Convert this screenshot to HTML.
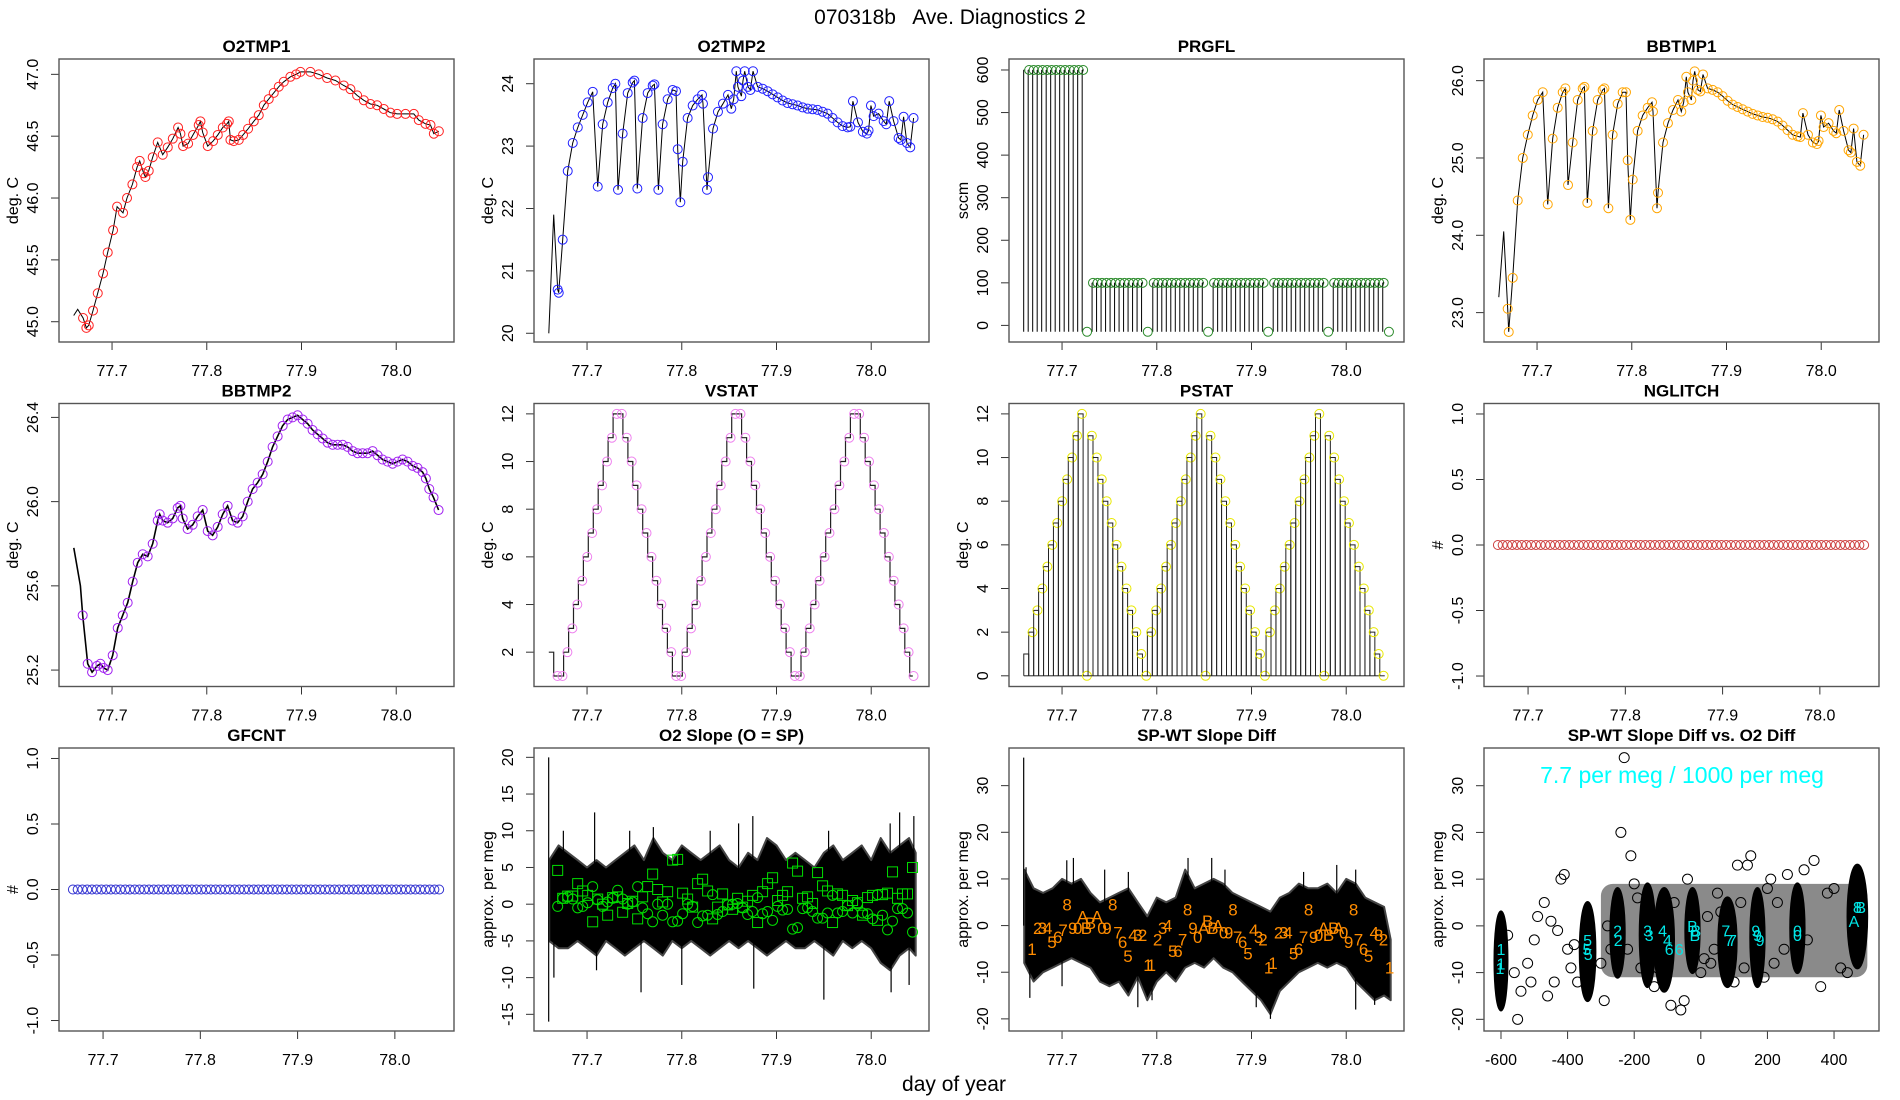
<!DOCTYPE html>
<html><head><meta charset="utf-8">
<style>
html,body{margin:0;padding:0;background:#fff;width:1900px;height:1100px;overflow:hidden}
svg{display:block;font-family:"Liberation Sans",Arial,sans-serif}
</style></head>
<body>
<svg id="fig" width="1900" height="1100" viewBox="0 0 1900 1100">
<rect x="0" y="0" width="1900" height="1100" fill="#fff"/>
<text x="950" y="24" text-anchor="middle" font-size="21" style="white-space:pre">070318b   Ave. Diagnostics 2</text>
<text x="954" y="1091" text-anchor="middle" font-size="21">day of year</text>
</svg>
<script>
// ---------- DATA ----------
// Panel 1 O2TMP1
const o2t1T=[77.6595,77.6637,77.6694,77.6729,77.6754,77.6799,77.6849,77.6905,77.6954,77.7011,77.7053,77.7116,77.7158,77.7215,77.7264,77.7292,77.7334,77.7352,77.7387,77.7429,77.7482,77.7535,77.7588,77.7641,77.7697,77.7722,77.775,77.7803,77.7855,77.7915,77.7933,77.7957,77.801,77.8067,77.8116,77.8169,77.8214,77.8232,77.825,77.8285,77.8338,77.8383,77.8436,77.8496,77.8549,77.8602,77.8654,77.8707,77.876,77.8813,77.8883,77.8944,77.8989,77.9094,77.9182,77.927,77.9358,77.9446,77.9517,77.9587,77.9658,77.9728,77.9798,77.9869,77.9939,78.001,78.0098,78.0186,78.0238,78.0309,78.0362,78.0397,78.045];
const o2t1V=[45.05,45.1,45.03,44.95,44.97,45.09,45.23,45.39,45.56,45.74,45.93,45.88,46.0,46.11,46.25,46.3,46.2,46.17,46.22,46.33,46.45,46.35,46.41,46.48,46.57,46.52,46.42,46.44,46.51,46.59,46.62,46.53,46.42,46.46,46.51,46.57,46.6,46.62,46.47,46.46,46.47,46.51,46.56,46.62,46.67,46.75,46.8,46.85,46.9,46.94,46.98,47.0,47.02,47.02,47.0,46.97,46.95,46.91,46.88,46.83,46.79,46.76,46.75,46.72,46.69,46.68,46.68,46.68,46.63,46.6,46.59,46.52,46.54];
// Panels 2 & 4 share time stamps
const tmpT=[77.6596,77.6648,77.669,77.6701,77.6743,77.6796,77.6849,77.6902,77.6954,77.7007,77.706,77.7113,77.7165,77.7218,77.7271,77.7299,77.7327,77.7376,77.7429,77.7482,77.75,77.7531,77.7587,77.764,77.7693,77.7711,77.7753,77.7798,77.7851,77.7904,77.7939,77.7957,77.7985,77.801,77.8062,77.8115,77.8168,77.8214,77.8224,77.8266,77.8277,77.833,77.8382,77.8435,77.8488,77.8523,77.8548,77.8576,77.8593,77.8629,77.8646,77.8664,77.8699,77.8724,77.8752,77.8801,77.8854,77.8906,77.8959,77.9012,77.9065,77.9117,77.917,77.9223,77.9276,77.9329,77.9381,77.9434,77.9487,77.954,77.9592,77.9645,77.9698,77.9751,77.9779,77.9807,77.986,77.9912,77.9955,77.9972,77.9997,78.0025,78.0078,78.0131,78.0159,78.019,78.0236,78.0289,78.0313,78.0342,78.0377,78.0412,78.0447];
const o2t2V=[20.0,21.9,20.7,20.65,21.5,22.6,23.05,23.3,23.5,23.7,23.87,22.35,23.35,23.7,23.93,24.0,22.3,23.2,23.85,24.02,24.05,22.32,23.45,23.85,23.97,23.99,22.3,23.35,23.75,23.9,23.88,22.95,22.1,22.75,23.45,23.65,23.75,23.82,23.68,22.3,22.5,23.28,23.55,23.68,23.82,23.6,23.75,24.2,23.95,23.8,24.05,24.2,23.95,23.9,24.2,23.95,23.92,23.88,23.83,23.78,23.73,23.69,23.67,23.65,23.62,23.6,23.59,23.58,23.55,23.52,23.45,23.38,23.32,23.3,23.31,23.72,23.38,23.23,23.2,23.25,23.65,23.48,23.52,23.4,23.35,23.72,23.4,23.13,23.1,23.47,23.05,22.98,23.45];
const bb1V=[23.2,24.05,23.05,22.75,23.45,24.45,25.0,25.3,25.55,25.75,25.85,24.4,25.25,25.65,25.85,25.9,24.65,25.2,25.75,25.9,25.92,24.42,25.35,25.75,25.88,25.9,24.35,25.3,25.7,25.85,25.85,24.97,24.2,24.72,25.35,25.55,25.65,25.72,25.6,24.35,24.55,25.2,25.45,25.62,25.75,25.6,25.72,26.05,25.85,25.75,26.0,26.12,25.88,25.86,26.08,25.9,25.88,25.85,25.8,25.74,25.69,25.66,25.63,25.6,25.57,25.55,25.53,25.52,25.5,25.47,25.42,25.36,25.3,25.28,25.27,25.58,25.3,25.2,25.18,25.22,25.55,25.4,25.45,25.35,25.32,25.62,25.35,25.1,25.07,25.38,24.95,24.9,25.3];
// Panel 3 PRGFL
const prgflStart=[77.6595,77.7317,77.7958,77.8595,77.9229,77.9863];
const prgflEnd=[77.7222,77.7863,77.8496,77.913,77.9764,78.0408];
const prgflLevel=[600,100,100,100,100,100];
const prgflDipT=[77.7264,77.7905,77.8542,77.9176,77.981,78.0451];
const prgflDipV=[-15,-15,-15,-15,-15,-15];
// Panel 5 BBTMP2
const bb2T=[77.6596,77.6666,77.669,77.6743,77.6789,77.6842,77.6877,77.6912,77.6954,77.7007,77.706,77.7113,77.7165,77.7218,77.7271,77.7324,77.7376,77.7429,77.7482,77.7503,77.7535,77.7587,77.764,77.7693,77.7721,77.7746,77.7798,77.7851,77.7904,77.7957,77.801,77.8062,77.8115,77.8168,77.822,77.8273,77.8326,77.8379,77.8432,77.8484,77.8537,77.859,77.8643,77.8695,77.8748,77.8801,77.8854,77.8906,77.8959,77.9012,77.9065,77.9117,77.917,77.9223,77.9276,77.9329,77.9381,77.9434,77.9487,77.954,77.9592,77.9645,77.9698,77.9751,77.9803,77.9856,77.9909,77.9962,78.0014,78.0067,78.012,78.0173,78.0225,78.0278,78.0313,78.0349,78.0394,78.0447];
const bb2V=[25.78,25.6,25.46,25.23,25.19,25.22,25.23,25.21,25.2,25.27,25.4,25.46,25.52,25.62,25.71,25.75,25.74,25.8,25.91,25.94,25.91,25.9,25.92,25.97,25.98,25.92,25.87,25.89,25.93,25.96,25.86,25.84,25.88,25.94,25.98,25.91,25.9,25.93,26.0,26.06,26.09,26.13,26.19,26.26,26.31,26.36,26.39,26.4,26.41,26.39,26.37,26.34,26.32,26.3,26.28,26.27,26.27,26.27,26.26,26.24,26.23,26.23,26.23,26.24,26.22,26.2,26.19,26.18,26.19,26.2,26.19,26.17,26.16,26.14,26.11,26.06,26.02,25.96];
// Panel 6 VSTAT / Panel 7 PSTAT (regular step grid)
const statT0=77.6596, statDt=0.00522;
const vstatV=[2,1,1,2,3,4,5,6,7,8,9,10,11,12,12,11,10,9,8,7,6,5,4,3,2,1,1,2,3,4,5,6,7,8,9,10,11,12,12,11,10,9,8,7,6,5,4,3,2,1,1,2,3,4,5,6,7,8,9,10,11,12,12,11,10,9,8,7,6,5,4,3,2,1];
const pstatV=[1,2,3,4,5,6,7,8,9,10,11,12,0,11,10,9,8,7,6,5,4,3,2,1,0,2,3,4,5,6,7,8,9,10,11,12,0,11,10,9,8,7,6,5,4,3,2,1,0,2,3,4,5,6,7,8,9,10,11,12,0,11,10,9,8,7,6,5,4,3,2,1,0];
// Panels 8, 9 counters
const cntT0=77.669, cntDt=0.00489;
const nglitchV=[0,0,0,0,0,0,0,0,0,0,0,0,0,0,0,0,0,0,0,0,0,0,0,0,0,0,0,0,0,0,0,0,0,0,0,0,0,0,0,0,0,0,0,0,0,0,0,0,0,0,0,0,0,0,0,0,0,0,0,0,0,0,0,0,0,0,0,0,0,0,0,0,0,0,0,0,0,0];
const gfcntV=[0,0,0,0,0,0,0,0,0,0,0,0,0,0,0,0,0,0,0,0,0,0,0,0,0,0,0,0,0,0,0,0,0,0,0,0,0,0,0,0,0,0,0,0,0,0,0,0,0,0,0,0,0,0,0,0,0,0,0,0,0,0,0,0,0,0,0,0,0,0,0,0,0,0,0,0,0,0];
// Panel 10 O2 slope
const bandT0=77.66, bandDt=0.01;
const slopeHi=[6,8,7,6,5,6,5,6,7,8,6,9,7,6,8,7,6,7,8,6,5,7,6,9,8,6,7,6,5,7,8,6,7,8,6,9,7,8,9,7];
const slopeLo=[-5,-6,-6,-5,-6,-7,-5,-6,-7,-6,-5,-6,-7,-5,-6,-5,-6,-7,-6,-5,-6,-5,-6,-7,-6,-5,-6,-6,-5,-6,-7,-5,-6,-5,-6,-8,-9,-7,-6,-7];
const slopeSpikeT=[77.6595,77.675,77.708,77.745,77.77,77.83,77.86,77.875,77.955,78.02,78.03,78.045,77.665,77.71,77.757,77.8,77.876,77.95,78.021,78.04];
const slopeSpikeV=[20,10,12.5,10,10.5,10,11,12,10,11,12.5,12,-10,-9,-12,-11,-11.5,-13,-12,-11];
const slopeSpikeBase=[-16,0,0,0,0,0,0,0,0,0,0,0,0,0,0,0,0,0,0,0];
const mkT0=77.669, mkDt=0.005276;
const slopeCirc=[-0.3,0.8,1,0.7,-0.5,-0.3,0.2,2.4,0.6,-0.3,0.3,0.8,1.9,0.7,0,0.3,2.4,-0.5,-1.3,-2.4,0,-1.5,0,-2.4,-2.3,-1.3,0,-0.3,-2.5,-1.6,-1.5,1.3,-1.4,-1,-0.1,0,0.1,-0.5,-1.4,-1,0.9,-1.3,-1,-2.2,-0.3,-0.8,-0.7,-3.4,-3.2,-0.6,-0.5,-1,-1.9,-1.9,-1.2,1.2,-1.2,-1,-0.2,-1.2,0.1,-1.2,-1.3,-2,1.3,-1.5,-3.5,-2.3,-0.6,-0.6,-1.2,-3.8];
const slopeSq=[4.6,0.8,1.1,1.1,2.8,1.8,1.2,-2.4,0.7,0,-1.5,0.9,1,-1.1,0.1,0.4,-2,1,2.4,4.1,2,0.3,1.7,6,6.1,1.5,0.7,-0.4,2.8,3.4,1.8,-2,-0.4,1.4,-0.1,-0.7,0.8,-0.4,0.4,1.2,-2.5,1.7,2.8,3.6,0.5,1.2,1.7,5.6,4.5,0.8,1,0.1,4.3,2.5,1.8,-2.5,1.4,1.2,-0.2,0.5,0.2,-1.5,0.9,1.2,-2.2,1.3,1.5,4.4,0.8,1.4,1.4,5];
// Panel 11 SP-WT slope diff
const diffHi=[12,8,7,8,10,9,10,7,5,6,7,8,5,2,6,5,6,12,8,9,10,9,7,6,5,4,3,6,7,9,8,8,9,7,10,9,6,5,4,-3];
const diffLo=[-8,-12,-10,-9,-8,-7,-8,-9,-12,-13,-12,-15,-11,-16,-12,-10,-12,-9,-8,-9,-7,-9,-10,-12,-14,-16,-19,-14,-12,-10,-9,-8,-9,-8,-9,-12,-14,-16,-15,-16];
const diffSpikeT=[77.6595,77.662,77.705,77.712,77.745,77.77,77.833,77.858,77.872,77.955,77.99,78.01,77.666,77.7,77.78,77.795,77.92,77.905,78.01,78.03];
const diffSpikeV=[36,12.5,14,14.5,12,11.5,14.5,14.5,12,11.5,13,12,-15.5,-13,-17.5,-16,-20,-17.5,-18,-17];
const labT=[77.6683,77.6743,77.6792,77.6849,77.6894,77.6954,77.7011,77.7053,77.7113,77.7165,77.7218,77.7257,77.7299,77.7369,77.7422,77.7475,77.7535,77.7591,77.764,77.7696,77.7749,77.7802,77.7851,77.7907,77.7943,77.8009,77.8062,77.8115,77.8168,77.8224,77.8273,77.8326,77.8382,77.8432,77.8495,77.8537,77.8593,77.8646,77.8706,77.8759,77.8804,77.8854,77.8906,77.8963,77.9023,77.9075,77.9121,77.9181,77.9227,77.9286,77.9339,77.9385,77.9445,77.9497,77.955,77.9603,77.9656,77.9708,77.9761,77.9814,77.9867,77.9919,77.9972,78.0025,78.0078,78.013,78.0183,78.0236,78.0296,78.0342,78.0394,78.0458];
const labV=[-5,-0.5,-0.5,-0.5,-3.5,-2.5,-1,4.5,-0.5,-0.5,2,-0.5,0.5,2,-0.5,-0.5,4.5,-1.5,-3.5,-6.5,-2,-2,-2,-8.5,-8.5,-3,-0.5,0,-5.5,-5.5,-3,3.5,-0.5,-2.5,-0.5,1,-0.5,0,-1.5,-1.5,3.5,-2.5,-3.5,-6,-1,-2.5,-3,-9,-8,-1.5,-1.5,-1.5,-6,-5,-2.5,3.5,-2.5,-2,-0.5,-2,-0.5,-0.5,-1.5,-3.5,3.5,-3,-5,-6.5,-1.5,-2,-3,-9];
const labC=["1","2","3","4","5","6","7","8","9","0","A","B","B","A","0","9","8","7","6","5","4","3","2","1","1","2","3","4","5","6","7","8","9","0","A","B","B","A","0","9","8","7","6","5","4","3","2","1","1","2","3","4","5","6","7","8","9","0","A","B","B","A","0","9","8","7","6","5","4","8","2","1"];
// Panel 12 scatter
const clX=[-600,-340,-250,-160,-110,-25,80,170,290,470];
const clLo=[-18,-16,-11,-13,-14,-10,-13,-13,-10,-9];
const clHi=[3,5,8,9,8,8,6,8,9,13];
const clHalfW=[18,22,20,22,28,20,26,20,20,28];
const cloudX=[-300,500], cloudY=[-11,9];
const scX=[-580,-560,-550,-540,-520,-510,-500,-490,-470,-460,-450,-440,-430,-420,-410,-400,-390,-380,-370,-300,-290,-280,-270,-240,-230,-220,-210,-200,-190,-180,-140,-130,-90,-80,-60,-50,-40,0,10,20,30,40,50,60,100,110,120,130,140,150,190,200,210,220,230,250,260,310,320,340,360,380,400,420,440];
const scY=[-2,-10,-20,-14,-8,-12,-3,2,5,-15,1,-12,-1,10,11,-5,-9,-4,-12,-8,-16,0,-5,20,36,-5,15,9,6,-9,-13,-9,-17,5,-18,-16,10,-10,-7,2,-8,-5,7,3,-12,13,5,-9,13,15,-11,8,10,-8,5,-5,11,12,-3,14,-13,7,8,-9,-10];
const lbX=[-600,-600,-603,-340,-342,-338,-250,-248,-160,-155,-115,-100,-95,-65,-25,-15,-18,75,85,95,165,170,178,290,290,460,470,480];
const lbY=[-5,-8,-9,-3,-5,-6,-1,-3,-1,-2,-1,-3,-5,-5,0,-1,-2,-1,-3,-3,-1,-2,-3,-1,-2,1,4,4];
const lbC=["1","1","1","5","5","5","2","2","3","3","4","4","6","6","B","B","B","7","7","7","9","9","9","0","0","A","8","B"];

// ---------- DRAWING ----------
const NS='http://www.w3.org/2000/svg';
const svg=document.getElementById('fig');
function add(tag,attrs,parent){const e=document.createElementNS(NS,tag);for(const k in attrs)e.setAttribute(k,attrs[k]);(parent||svg).appendChild(e);return e;}
const PW=395, PH=283;
const timeDom=[77.644,78.061], cntDom=[77.6547,78.0608];
let clipN=0;
function panel(col,row,key,title,ylab,xd,yd,yticks,ydec,xticks,xdec){
  const L=59+col*475, T=59+row*344.5, B=T+PH;
  const g=add('g',{});
  
  
  const sx=v=>L+(v-xd[0])/(xd[1]-xd[0])*PW;
  const sy=v=>B-(v-yd[0])/(yd[1]-yd[0])*PH;
  const cid='clip'+(clipN++);
  const cp=add('clipPath',{id:cid},g);
  add('rect',{x:L,y:T,width:PW,height:PH},cp);
  const t=add('text',{x:L+PW/2,y:T-7,'text-anchor':'middle','font-size':17,'font-weight':'bold'},g);
  t.textContent=title;
  
  
  const yl=add('text',{x:L-41,y:T+PH/2,'text-anchor':'middle','font-size':16,transform:`rotate(-90 ${L-41} ${T+PH/2})`},g);
  yl.textContent=ylab;
  
  
  yticks.forEach(v=>{
    const y=sy(v);
    const tk=add('line',{x1:L-8,x2:L,y1:y,y2:y,stroke:'#333','stroke-width':1},g);
    
    
    const lb=add('text',{x:L-21,y:y,'text-anchor':'middle','font-size':16,transform:`rotate(-90 ${L-21} ${y})`},g);
    lb.textContent=v.toFixed(ydec);
    
    
  });
  xticks.forEach(v=>{
    const x=sx(v);
    const tk=add('line',{x1:x,x2:x,y1:B,y2:B+8,stroke:'#333','stroke-width':1},g);
    
    
    const lb=add('text',{x:x,y:B+34,'text-anchor':'middle','font-size':16},g);
    lb.textContent=v.toFixed(xdec);
    
    
  });
  const plot=add('g',{'clip-path':`url(#${cid})`},g);
  
  
  const box=add('rect',{x:L,y:T,width:PW,height:PH,fill:'none',stroke:'#555','stroke-width':1.4},g);
  
  
  return {g:plot,sx,sy,L,T,B};
}
function line(p,xs,ys,key,color,w){
  const pts=xs.map((x,i)=>p.sx(x).toFixed(1)+','+p.sy(ys[i]).toFixed(1)).join(' ');
  const e=add('polyline',{points:pts,fill:'none',stroke:color||'#000','stroke-width':w||1},p.g);
  
  
}
function circ(p,x,y,color,key,r){
  const e=add('circle',{cx:p.sx(x),cy:p.sy(y),r:r||4.5,fill:'none',stroke:color,'stroke-width':1},p.g);
  
  
}
const tT=[77.7,77.8,77.9,78.0];

// Panel 1
let p=panel(0,0,'o2tmp1','O2TMP1','deg. C',timeDom,[44.836,47.124],[45,45.5,46,46.5,47],1,tT,1);
line(p,o2t1T,o2t1V,'o2tmp1-line');
o2t1T.forEach((t,i)=>{if(i>=2)circ(p,t,o2t1V[i],'#ff2020','o2tmp1-point');});

// Panel 2
p=panel(1,0,'o2tmp2','O2TMP2','deg. C',timeDom,[19.86,24.396],[20,21,22,23,24],0,tT,1);
line(p,tmpT,o2t2V,'o2tmp2-line');
tmpT.forEach((t,i)=>{if(i>=2)circ(p,t,o2t2V[i],'#2020ff','o2tmp2-point');});

// Panel 3
p=panel(2,0,'prgfl','PRGFL','sccm',timeDom,[-39,625.8],[0,100,200,300,400,500,600],0,tT,1);
prgflStart.forEach((s,k)=>{
  for(let t=s;t<=prgflEnd[k]+1e-6;t+=0.00475){
    const e=add('line',{x1:p.sx(t),x2:p.sx(t),y1:p.sy(-15),y2:p.sy(prgflLevel[k]),stroke:'#000','stroke-width':1},p.g);
    
    
    const h=add('line',{x1:p.sx(t),x2:p.sx(t+0.0016),y1:p.sy(prgflLevel[k]),y2:p.sy(prgflLevel[k]),stroke:'#000','stroke-width':1},p.g);
    
    
    if(t>s+0.004||k>0) circ(p,t+0.001,prgflLevel[k],'#2a8a2a','prgfl-point');
  }
});
prgflDipT.forEach((t,i)=>circ(p,t,prgflDipV[i],'#2a8a2a','prgfl-dip-point'));

// Panel 4
p=panel(3,0,'bbtmp1','BBTMP1','deg. C',timeDom,[22.62,26.28],[23,24,25,26],1,tT,1);
line(p,tmpT,bb1V,'bbtmp1-line');
tmpT.forEach((t,i)=>{if(i>=2)circ(p,t,bb1V[i],'#ffa500','bbtmp1-point');});

// Panel 5
p=panel(0,1,'bbtmp2','BBTMP2','deg. C',timeDom,[25.122,26.466],[25.2,25.6,26.0,26.4],1,tT,1);
line(p,bb2T,bb2V,'bbtmp2-line',"#000",1.6);
bb2T.forEach((t,i)=>{if(i>=2)circ(p,t,bb2V[i],'#a020f0','bbtmp2-point');});

// Panel 6 VSTAT
p=panel(1,1,'vstat','VSTAT','deg. C',timeDom,[0.56,12.435],[2,4,6,8,10,12],0,tT,1);
{
  let pts=[];
  vstatV.forEach((v,i)=>{const t=statT0+i*statDt;
    if(i>0)pts.push(p.sx(t).toFixed(1)+','+p.sy(vstatV[i-1]).toFixed(1));
    pts.push(p.sx(t).toFixed(1)+','+p.sy(v).toFixed(1));});
  pts.push(p.sx(statT0+vstatV.length*statDt-0.002).toFixed(1)+','+p.sy(vstatV[vstatV.length-1]).toFixed(1));
  const e=add('polyline',{points:pts.join(' '),fill:'none',stroke:'#222','stroke-width':1.2},p.g);
  
  
  vstatV.forEach((v,i)=>{if(i>0)circ(p,statT0+i*statDt+0.004,v,'#ee82ee','vstat-point');});
}

// Panel 7 PSTAT
p=panel(2,1,'pstat','PSTAT','deg. C',timeDom,[-0.49,12.476],[0,2,4,6,8,10,12],0,tT,1);
pstatV.forEach((v,i)=>{
  const t=statT0+i*statDt;
  if(v>0){
    const e=add('polyline',{points:`${p.sx(t)},${p.sy(0)} ${p.sx(t)},${p.sy(v)} ${p.sx(t+statDt)},${p.sy(v)} ${p.sx(t+statDt)},${p.sy(0)}`,fill:'none',stroke:'#222','stroke-width':1},p.g);
    
    
  }
  const b=add('line',{x1:p.sx(t),x2:p.sx(t+statDt),y1:p.sy(0),y2:p.sy(0),stroke:'#222','stroke-width':1},p.g);
  
  
  if(i>0)circ(p,t+0.004,v,'#e8e800','pstat-point');
});

// Panel 8 NGLITCH
p=panel(3,1,'nglitch','NGLITCH','#',cntDom,[-1.08,1.08],[-1,-0.5,0,0.5,1],1,tT,1);
nglitchV.forEach((v,i)=>circ(p,cntT0+i*cntDt,v,'#cd4040','nglitch-point'));

// Panel 9 GFCNT
p=panel(0,2,'gfcnt','GFCNT','#',cntDom,[-1.08,1.08],[-1,-0.5,0,0.5,1],1,tT,1);
gfcntV.forEach((v,i)=>circ(p,cntT0+i*cntDt,v,'#3030d0','gfcnt-point'));

function band(p,hi,lo,key){
  const up=hi.map((v,i)=>p.sx(Math.min(bandT0+i*bandDt,78.047)).toFixed(1)+','+p.sy(v).toFixed(1));
  const dn=lo.map((v,i)=>p.sx(Math.min(bandT0+i*bandDt,78.047)).toFixed(1)+','+p.sy(v).toFixed(1)).reverse();
  const e=add('polygon',{points:up.concat(dn).join(' '),fill:'#000',stroke:'#444','stroke-width':2,'stroke-linejoin':'round'},p.g);
  
  
}
function spikes(p,ts,vs,base,key){
  ts.forEach((t,i)=>{
    const e=add('line',{x1:p.sx(t),x2:p.sx(t),y1:p.sy(base?base[i]:0),y2:p.sy(vs[i]),stroke:'#000','stroke-width':1.2},p.g);
    
    
  });
}
// Panel 10
p=panel(1,2,'o2-slope','O2 Slope (O = SP)','approx. per meg',timeDom,[-17.27,21.27],[-15,-10,-5,0,5,10,15,20],0,tT,1);
band(p,slopeHi,slopeLo,'o2-slope-band');
spikes(p,slopeSpikeT,slopeSpikeV,slopeSpikeBase,'o2-slope-spike');
slopeCirc.forEach((v,i)=>circ(p,mkT0+i*mkDt,v,'#00dd00','o2-slope-circle',5));
slopeSq.forEach((v,i)=>{
  const x=p.sx(mkT0+i*mkDt), y=p.sy(v);
  const e=add('rect',{x:x-5,y:y-5,width:10,height:10,fill:'none',stroke:'#00dd00','stroke-width':1},p.g);
  
  
});

// Panel 11
p=panel(2,2,'spwt-slope-diff','SP-WT Slope Diff','approx. per meg',timeDom,[-22.6,38.07],[-20,-10,0,10,20,30],0,tT,1);
band(p,diffHi,diffLo,'spwt-band');
spikes(p,diffSpikeT,diffSpikeV,null,'spwt-spike');
labT.forEach((t,i)=>{
  const e=add('text',{x:p.sx(t),y:p.sy(labV[i])+6,'text-anchor':'middle','font-size':17,fill:'#ff8c00'},p.g);
  e.textContent=labC[i];
  
  
});

// Panel 12
p=panel(3,2,'slope-vs-o2','SP-WT Slope Diff vs. O2 Diff','approx. per meg',[-651,535],[-22.5,38.07],[-20,-10,0,10,20,30],0,[-600,-400,-200,0,200,400],0);
{
  const c=add('rect',{x:p.sx(cloudX[0]),y:p.sy(cloudY[1]),width:p.sx(cloudX[1])-p.sx(cloudX[0]),height:p.sy(cloudY[0])-p.sy(cloudY[1]),fill:'#8a8a8a',rx:12},p.g);
  
  
}
scX.forEach((x,i)=>circ(p,x,scY[i],'#000','scatter-point',5));
clX.forEach((x,i)=>{
  const cy=(p.sy(clLo[i])+p.sy(clHi[i]))/2, ry=(p.sy(clLo[i])-p.sy(clHi[i]))/2;
  const rx=p.sx(x+clHalfW[i])-p.sx(x);
  const e=add('ellipse',{cx:p.sx(x),cy:cy,rx:rx,ry:ry,fill:'#000',stroke:'#000','stroke-width':3},p.g);
  
  
});
lbX.forEach((x,i)=>{
  const e=add('text',{x:p.sx(x),y:p.sy(lbY[i])+6,'text-anchor':'middle','font-size':16,fill:'#00e5e5'},p.g);
  e.textContent=lbC[i];
  
  
});
{
  const e=add('text',{x:1682,y:783,'text-anchor':'middle','font-size':23,fill:'#00ffff'},svg);
  e.textContent='7.7 per meg / 1000 per meg';
  
  
}
</script>
</body></html>
